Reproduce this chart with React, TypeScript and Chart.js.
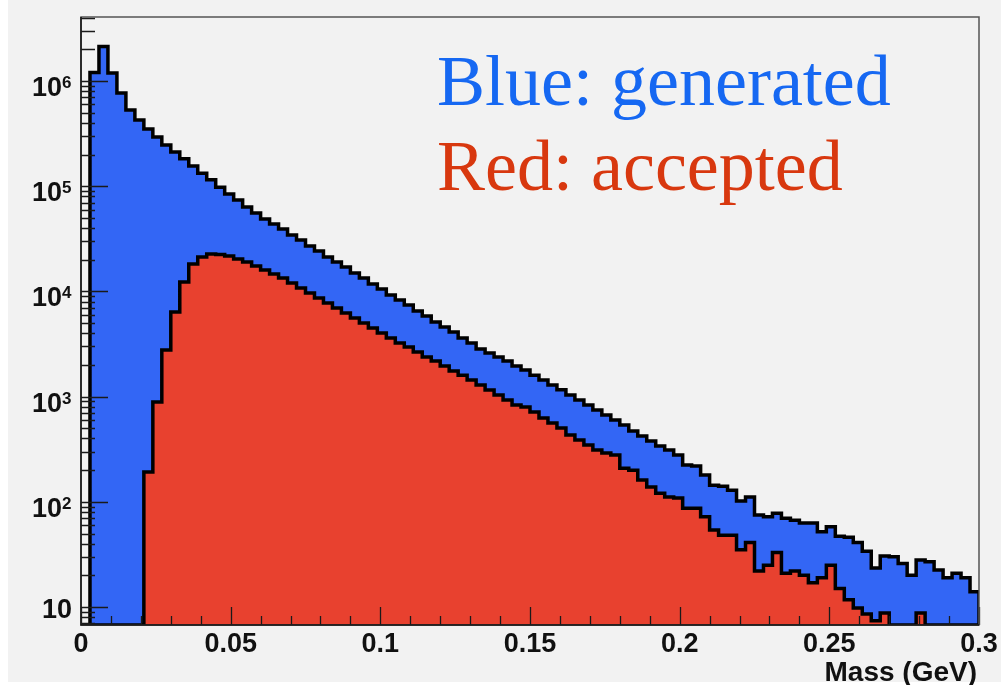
import React, { useEffect, useRef } from "react";
import { Chart, registerables } from "chart.js";

Chart.register(...registerables);

// ---- data ----
const BIN_WIDTH = 0.003;
const X_MIN = 0;
const X_MAX = 0.3;
const Y_MIN = 6.75;
const Y_MAX = 4.06e6;

const xTickValues = [0, 0.05, 0.1, 0.15, 0.2, 0.25, 0.3];
const xTickLabels = ["0", "0.05", "0.1", "0.15", "0.2", "0.25", "0.3"];
const yTickExponents = [1, 2, 3, 4, 5, 6];
const xTitle = "Mass (GeV)";
const legendLines = ["Blue: generated", "Red: accepted"];

// generated (blue), 100 bins of 0.003 GeV
const generated = [
  0, 1205000, 2130000, 1190000, 769000, 530000, 426000, 350000, 294000, 246000,
  211000, 182000, 156000, 133000, 115000, 98000, 84300, 74000, 63400, 55600,
  48800, 43700, 39200, 34400, 30800, 27000, 24200, 21200, 19000, 17100,
  15000, 13400, 11750, 10540, 9250, 8280, 7430, 6510, 5840, 5120,
  4590, 4110, 3610, 3240, 2830, 2600, 2380, 2180, 1950, 1790,
  1600, 1440, 1290, 1160, 1035, 929, 832, 746, 668, 600,
  537, 471, 422, 378, 339, 311, 279, 224, 219, 180,
  144, 141, 129, 102, 111, 75, 72, 78, 70, 67,
  63, 63, 52, 58, 47, 46, 41, 34, 23.5, 30.5,
  30, 26, 20, 28, 27, 22.5, 19, 21, 19, 14,
];

// accepted (red), same binning
const accepted = [
  0, 0, 0, 0, 0, 0, 0, 192, 889, 2773,
  6370, 12280, 18200, 21200, 22700, 22500, 21700, 20300, 19000, 17400,
  15960, 14620, 13400, 12020, 10770, 9660, 8650, 7760, 6950, 6230,
  5590, 5010, 4490, 4030, 3610, 3240, 2960, 2655, 2380, 2180,
  1954, 1750, 1600, 1440, 1290, 1156, 1036, 929, 832, 796,
  714, 626, 561, 503, 431, 387, 347, 311, 291, 279,
  209, 200, 161, 138, 121, 111, 109, 87, 87, 72,
  54, 48, 48, 35, 41, 22, 25, 33, 21, 22,
  20, 17, 19, 25, 15, 11.7, 9.8, 8.6, 7.4, 8.8,
  0, 0, 0, 8.8, 0, 0, 0, 0, 0, 0,
];

const BLUE_FILL = "#3366f5";
const RED_FILL = "#e8412f";
const BLUE_TEXT = "#1668f2";
const RED_TEXT = "#d8380f";

function histPoints(values: number[]) {
  const fl = (v: number) => (v > 0 ? v : Y_MIN);
  const pts: { x: number; y: number }[] = [{ x: 0, y: Y_MIN }];
  values.forEach((v, i) => pts.push({ x: i * BIN_WIDTH, y: fl(v) }));
  const last = values.length * BIN_WIDTH;
  pts.push({ x: last, y: fl(values[values.length - 1]) });
  pts.push({ x: last, y: Y_MIN });
  return pts;
}

const decorPlugin = {
  id: "rootDecor",
  afterDatasetsDraw(chart: any) {
    const { ctx, chartArea: a, scales } = chart;
    const x = scales.x;
    const y = scales.y;
    ctx.save();
    // ticks
    ctx.strokeStyle = "#1a1a1a";
    ctx.lineWidth = 1.3;
    ctx.beginPath();
    for (let k = 0; k <= 6; k++) {
      for (let m = 1; m <= 9; m++) {
        const v = m * Math.pow(10, k);
        if (v < Y_MIN || v > Y_MAX) continue;
        const py = Math.round(y.getPixelForValue(v)) + 0.5;
        const len = m === 1 ? 27 : 14;
        ctx.moveTo(a.left, py);
        ctx.lineTo(a.left + len, py);
      }
    }
    for (let t = 0; t <= 30; t++) {
      const px = Math.round(x.getPixelForValue(t * 0.01)) + 0.5;
      const len = t % 5 === 0 ? 18 : 9;
      ctx.moveTo(px, a.bottom);
      ctx.lineTo(px, a.bottom - len);
    }
    ctx.stroke();
    // frame
    ctx.strokeStyle = "#555";
    ctx.lineWidth = 1.5;
    ctx.strokeRect(a.left, a.top, a.right - a.left, a.bottom - a.top);
    ctx.strokeStyle = "#111";
    ctx.beginPath();
    ctx.moveTo(a.left, a.top);
    ctx.lineTo(a.left, a.bottom);
    ctx.lineTo(a.right, a.bottom);
    ctx.stroke();

    // x tick labels
    ctx.fillStyle = "#111";
    ctx.font = "bold 27px 'Liberation Sans', Arial, sans-serif";
    ctx.textAlign = "center";
    ctx.textBaseline = "alphabetic";
    xTickValues.forEach((v, i) => {
      ctx.fillText(xTickLabels[i], x.getPixelForValue(v), 652);
    });
    // x title
    ctx.textAlign = "right";
    ctx.font = "bold 28px 'Liberation Sans', Arial, sans-serif";
    ctx.fillText(xTitle, 977, 681);

    // y tick labels
    yTickExponents.forEach((k) => {
      const py = y.getPixelForValue(Math.pow(10, k));
      ctx.font = "bold 27px 'Liberation Sans', Arial, sans-serif";
      ctx.textAlign = "right";
      if (k === 1) {
        ctx.fillText("10", 72, py + 11);
      } else {
        ctx.fillText("10", 62, py + 15);
        ctx.textAlign = "left";
        ctx.font = "bold 17px 'Liberation Sans', Arial, sans-serif";
        ctx.fillText(String(k), 62, py + 7);
      }
    });

    // legend texts
    ctx.textAlign = "left";
    ctx.font = "72px 'Liberation Serif', 'Times New Roman', serif";
    ctx.fillStyle = BLUE_TEXT;
    ctx.fillText(legendLines[0], 437, 105);
    ctx.fillStyle = RED_TEXT;
    ctx.fillText(legendLines[1], 437, 190);
    ctx.restore();
  },
};

export default function App() {
  const ref = useRef<HTMLCanvasElement | null>(null);
  useEffect(() => {
    if (!ref.current) return;
    const chart = new Chart(ref.current, {
      type: "line",
      data: {
        datasets: [
          {
            label: "accepted",
            data: histPoints(accepted),
            stepped: "before",
            borderColor: "#000",
            borderWidth: 3.5,
            backgroundColor: RED_FILL,
            fill: "start",
            pointRadius: 0,
            order: 0,
          },
          {
            label: "generated",
            data: histPoints(generated),
            stepped: "before",
            borderColor: "#000",
            borderWidth: 3.5,
            backgroundColor: BLUE_FILL,
            fill: "start",
            pointRadius: 0,
            order: 1,
          },
        ],
      },
      options: {
        animation: false,
        responsive: false,
        layout: { padding: { left: 81, right: 22, top: 17, bottom: 60 } },
        plugins: { legend: { display: false }, tooltip: { enabled: false } },
        scales: {
          x: { type: "linear", min: X_MIN, max: X_MAX, display: false },
          y: { type: "logarithmic", min: Y_MIN, max: Y_MAX, display: false },
        },
      },
      plugins: [decorPlugin],
    } as any);
    return () => chart.destroy();
  }, []);

  return (
    <div style={{ position: "fixed", left: 0, top: 0, width: 1001, height: 685, background: "#fff" }}>
      <div style={{ position: "absolute", left: 8, top: 0, width: 993, height: 682, background: "#f2f2f2" }} />
      <canvas ref={ref} width={1001} height={685} style={{ position: "absolute", left: 0, top: 0 }} />
    </div>
  );
}
